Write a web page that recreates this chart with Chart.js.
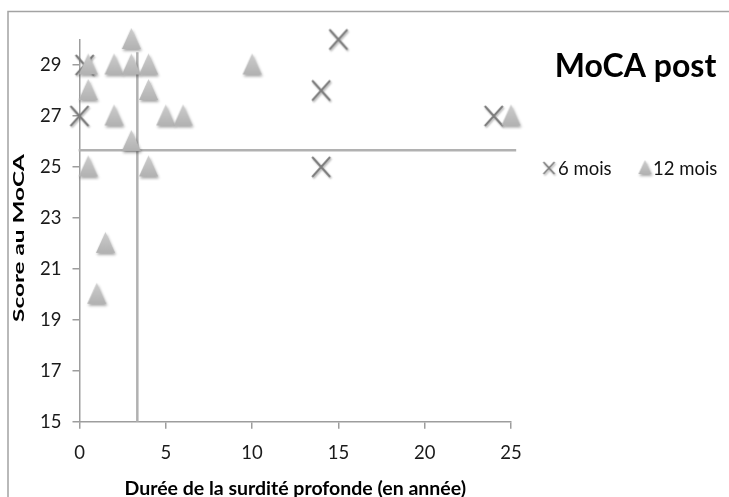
<!DOCTYPE html>
<html>
<head>
<meta charset="utf-8">
<script src="https://cdn.jsdelivr.net/npm/chart.js@4.4.1/dist/chart.umd.min.js"></script>
<style>
  html, body { margin: 0; padding: 0; background: #fff; }
  #wrap { position: relative; width: 729px; height: 497px; }
</style>
</head>
<body>
<div id="wrap"><canvas id="chart" width="729" height="497"></canvas></div>
<script>
/* ── data ── */
const xTicks = [0, 5, 10, 15, 20, 25];
const yTicks = [15, 17, 19, 21, 23, 25, 27, 29];

const sixMoisX = [0.3, 0, 14, 15, 14, 24];
const sixMoisY = [29, 27, 28, 30, 25, 27];

const douzeMoisX = [0.5, 0.5, 0.5, 1, 1.5, 2, 2, 3, 3, 3, 4, 4, 4, 5, 6, 10, 25];
const douzeMoisY = [29, 28, 25, 20, 22, 29, 27, 30, 29, 26, 29, 28, 25, 27, 27, 29, 27];

const meanScore = 25.65;   // horizontal line
const meanDuree = 3.35;    // vertical line

const FONT = 'Lato, "Open Sans", sans-serif';
const AXIS_GREY = '#9d9d9d';

/* ── marker images ── */
function triangleImg(w, h) {
  const c = document.createElement('canvas');
  c.width = w + 8; c.height = h + 8;
  const ctx = c.getContext('2d');
  const x0 = 4, y0 = 3;
  ctx.shadowColor = 'rgba(0,0,0,0.35)';
  ctx.shadowBlur = 3; ctx.shadowOffsetX = 1; ctx.shadowOffsetY = 2;
  const grd = ctx.createLinearGradient(0, y0, 0, y0 + h);
  grd.addColorStop(0, '#cdcdcd'); grd.addColorStop(1, '#b2b2b2');
  ctx.fillStyle = grd;
  ctx.beginPath();
  ctx.moveTo(x0 + w / 2, y0);
  ctx.lineTo(x0 + w, y0 + h);
  ctx.lineTo(x0, y0 + h);
  ctx.closePath();
  ctx.fill();
  return c;
}
function crossImg(w, h, lw) {
  const c = document.createElement('canvas');
  c.width = w + 8; c.height = h + 8;
  const ctx = c.getContext('2d');
  const x0 = 4, y0 = 4;
  ctx.shadowColor = 'rgba(0,0,0,0.3)';
  ctx.shadowBlur = 2; ctx.shadowOffsetX = 1; ctx.shadowOffsetY = 1.5;
  ctx.strokeStyle = '#7b7b7b';
  ctx.lineWidth = lw;
  ctx.beginPath();
  ctx.moveTo(x0, y0); ctx.lineTo(x0 + w, y0 + h);
  ctx.moveTo(x0 + w, y0); ctx.lineTo(x0, y0 + h);
  ctx.stroke();
  return c;
}
const triPlot = triangleImg(19, 21);
const crossPlot = crossImg(18, 20, 2);
const triLeg = triangleImg(13, 14);
const crossLeg = crossImg(11, 12, 1.6);

const toPts = (xs, ys) => xs.map((x, i) => ({ x: x, y: ys[i] }));

/* ── frame, title, legend, y title ── */
const decor = {
  id: 'decor',
  beforeDraw(chart) {
    const ctx = chart.ctx;
    ctx.save();
    ctx.strokeStyle = '#a3a3a3';
    ctx.lineWidth = 1.5;
    ctx.strokeRect(8, 11.5, 740, 520);
    ctx.restore();
  },
  afterDraw(chart) {
    const ctx = chart.ctx;
    ctx.save();
    ctx.fillStyle = '#000';
    ctx.textBaseline = 'middle';
    ctx.textAlign = 'center';
    ctx.font = 'bold 32px ' + FONT;
    ctx.fillText('MoCA post', 635.5, 67);

    ctx.textAlign = 'left';
    ctx.font = '18.5px ' + FONT;
    ctx.fillStyle = '#111';
    ctx.drawImage(crossLeg, 549 - crossLeg.width / 2, 168 - crossLeg.height / 2);
    ctx.fillText('6 mois', 558, 169);
    ctx.drawImage(triLeg, 645 - triLeg.width / 2, 168 - triLeg.height / 2);
    ctx.fillText('12 mois', 653, 169);

    // y-axis title, stretched along its length like the original
    ctx.translate(19, 238);
    ctx.rotate(-Math.PI / 2);
    ctx.scale(1.52, 1);
    ctx.textAlign = 'center';
    ctx.fillStyle = '#000';
    ctx.font = 'bold 16px ' + FONT;
    ctx.fillText('Score au MoCA', 0, 0);
    ctx.restore();
  }
};

new Chart(document.getElementById('chart'), {
  type: 'scatter',
  data: {
    datasets: [
      { label: '12 mois', data: toPts(douzeMoisX, douzeMoisY), pointStyle: triPlot, order: 1, clip: false },
      { label: '6 mois', data: toPts(sixMoisX, sixMoisY), pointStyle: crossPlot, order: 2, clip: false },
      { type: 'line', label: 'moyenne score', data: [{ x: -0.05, y: meanScore }, { x: 25.3, y: meanScore }],
        borderColor: '#b1b1b1', borderWidth: 2.5, pointRadius: 0, order: 3, clip: false },
      { type: 'line', label: 'moyenne durée', data: [{ x: meanDuree, y: 15 }, { x: meanDuree, y: 29.5 }],
        borderColor: '#b1b1b1', borderWidth: 2.5, pointRadius: 0, order: 3, clip: false }
    ]
  },
  options: {
    responsive: false,
    animation: false,
    devicePixelRatio: 1,
    layout: { padding: { left: 0, top: 39.5, right: 218, bottom: 0 } },
    plugins: { legend: { display: false }, tooltip: { enabled: false } },
    scales: {
      x: {
        type: 'linear', min: 0, max: 25,
        afterBuildTicks: s => { s.ticks = xTicks.map(v => ({ value: v })); },
        afterFit: s => { s.height = 75.3; },
        grid: { drawOnChartArea: false, color: AXIS_GREY, tickLength: 7, lineWidth: 1.5 },
        border: { color: AXIS_GREY, width: 1.5 },
        ticks: { color: '#1a1a1a', font: { family: FONT, size: 18.5 }, padding: 13, maxRotation: 0 },
        title: { display: true, text: 'Durée de la surdité profonde (en année)', color: '#000',
                 font: { family: FONT, size: 19.5, weight: 'bold', lineHeight: 1 }, padding: { top: 0, bottom: -1 } }
      },
      y: {
        type: 'linear', min: 15, max: 30,
        afterBuildTicks: s => { s.ticks = yTicks.map(v => ({ value: v })); },
        afterFit: s => { s.width = 79.5; },
        grid: { drawOnChartArea: false, color: AXIS_GREY, tickLength: 7, lineWidth: 1.5 },
        border: { color: AXIS_GREY, width: 1.5 },
        ticks: { color: '#1a1a1a', font: { family: FONT, size: 18.5 }, padding: 11 },
        title: { display: false }
      }
    }
  },
  plugins: [decor]
});
</script>
</body>
</html>
